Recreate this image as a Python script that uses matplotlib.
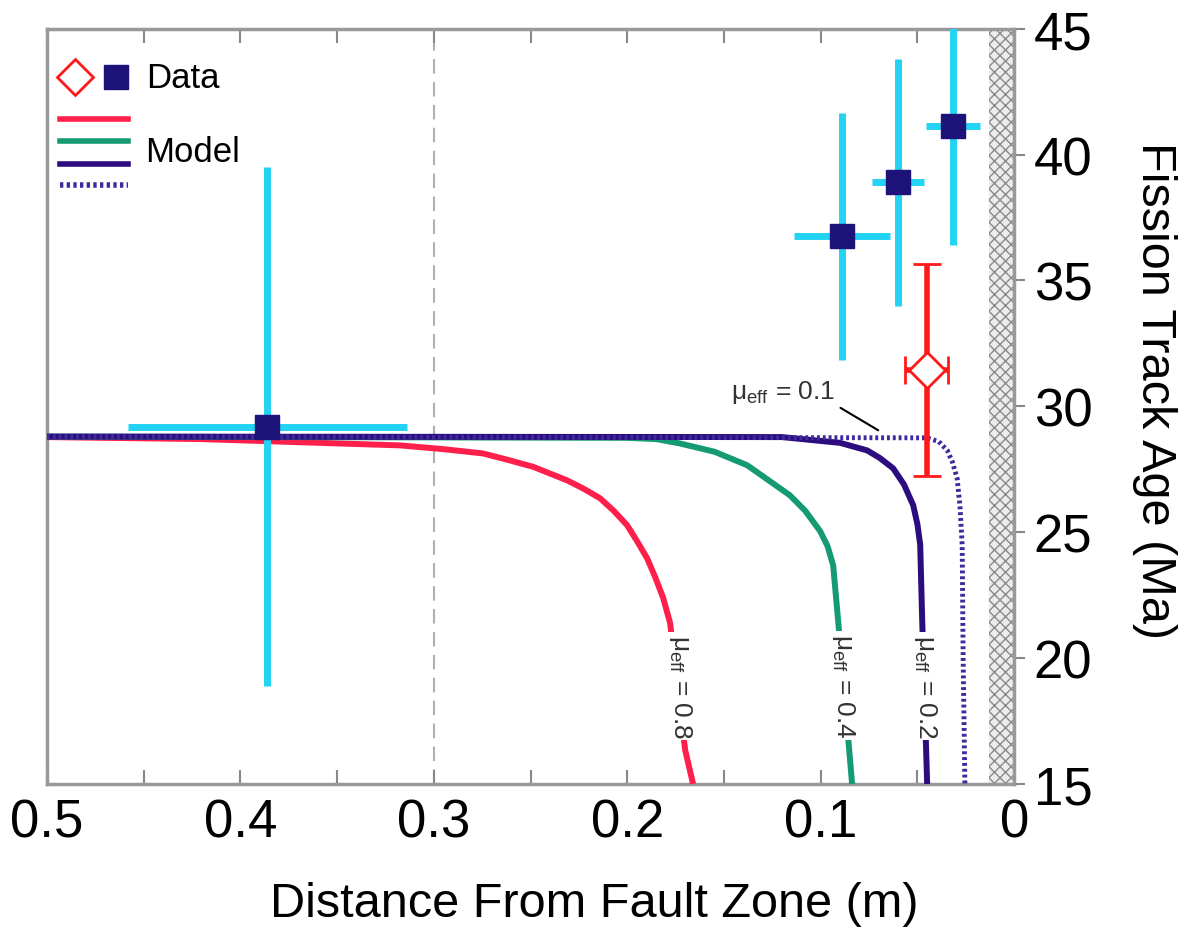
import numpy as np
import matplotlib
matplotlib.use('Agg')
import matplotlib.pyplot as plt
from matplotlib.lines import Line2D

plt.rcParams['font.family'] = ['Liberation Sans', 'DejaVu Sans']
plt.rcParams['mathtext.fontset'] = 'custom'
plt.rcParams['mathtext.rm'] = 'Liberation Sans'

'~~~~~~~~~~ DATA ~~~~~~~~~~'
# fission track samples (distance m, age Ma)
data_x = [0.386, 0.089, 0.060, 0.0315]
data_y = [29.2, 36.75, 38.9, 41.15]
data_xerr = [0.072, 0.025, 0.0135, 0.014]
data_yerr = [10.3, 4.9, 4.9, 4.75]

# second data point (open diamond)
dia_x = [0.0452]
dia_y = [31.45]
dia_xerr = [0.011]
dia_yerr = [4.2]

# model curves
red_x = [0.5, 0.42, 0.3175, 0.295, 0.2746, 0.262, 0.2487, 0.2311, 0.2226, 0.2141, 0.207, 0.2001,
         0.195, 0.1898, 0.1855, 0.1815, 0.1779, 0.1701, 0.166]
red_y = [28.78, 28.7, 28.45, 28.3, 28.13, 27.88, 27.6, 27.06, 26.73, 26.35, 25.85, 25.28,
         24.65, 23.97, 23.2, 22.4, 21.4, 16.35, 15.0]

green_x = [0.5, 0.2, 0.185, 0.173, 0.155, 0.138, 0.116, 0.108, 0.1003, 0.0965, 0.0936, 0.091, 0.0838]
green_y = [28.8, 28.75, 28.7, 28.53, 28.2, 27.66, 26.47, 25.85, 25.04, 24.45, 23.69, 21.47, 15.0]

purple_x = [0.5, 0.12, 0.09, 0.076, 0.0695, 0.0626, 0.057, 0.0522, 0.050, 0.0486, 0.0476, 0.045]
purple_y = [28.8, 28.78, 28.55, 28.25, 27.95, 27.54, 26.9, 26.07, 25.3, 24.5, 21.6, 15.0]

dot_x = [0.5, 0.045, 0.039, 0.0346, 0.032, 0.0295, 0.028, 0.0269, 0.0264, 0.0255]
dot_y = [28.8, 28.75, 28.6, 28.25, 27.8, 27.14, 26.0, 24.5, 20.0, 15.0]

mu_labels = ['0.8', '0.4', '0.2']
mu_label_x = [0.1727, 0.0884, 0.046]
mu_label_y = [18.9, 18.9, 18.9]

x_ticks = [0.5, 0.4, 0.3, 0.2, 0.1, 0.0]
x_ticklabels = ['0.5', '0.4', '0.3', '0.2', '0.1', '0']
y_ticks = [15, 20, 25, 30, 35, 40, 45]

c_red = '#ff1f4b'
c_green = '#159a74'
c_purple = '#2c0c7e'
c_dot = '#3d2a9c'
c_navy = '#1c1278'
c_cyan = '#22d3f3'

'------------------ PLOT ---------------------------------------------------------------------------------------------'
fig = plt.figure(figsize=(11.89, 9.29), dpi=100)
ax = fig.add_axes([0.0395, 0.155, 0.8135, 0.813])

# fault zone
ax.axvspan(0.0, 0.013, facecolor='#ececec', edgecolor='#8a8a8a', hatch='xxx', linewidth=0, zorder=1)
ax.axvline(0.3, color='#b0b0b0', linestyle=(0, (7, 4)), linewidth=1.5, zorder=1)

ax.plot(red_x, red_y, color=c_red, linewidth=4.3, zorder=3, solid_capstyle='butt')
ax.plot(green_x, green_y, color=c_green, linewidth=4.3, zorder=3, solid_capstyle='butt')
ax.plot(purple_x, purple_y, color=c_purple, linewidth=4.3, zorder=4, solid_capstyle='butt')
ax.plot(dot_x, dot_y, color=c_dot, linewidth=3.5, linestyle=(0, (0.6, 0.6)), zorder=5)

for lab, lx, ly in zip(mu_labels, mu_label_x, mu_label_y):
    ax.text(lx, ly, 'μ$_{\\rm eff}$ = ' + lab, rotation=-90, ha='center', va='center',
            fontsize=19, color='#333333', zorder=6,
            bbox=dict(facecolor='white', edgecolor='none', pad=1.5))

ax.annotate('μ$_{\\rm eff}$ = 0.1', xy=(0.0703, 29.05), xytext=(0.1194, 30.6),
            ha='center', va='center', fontsize=19, color='#333333', zorder=6,
            arrowprops=dict(arrowstyle='-', color='black', lw=1.5, relpos=(1.0, 0.0),
                            shrinkA=2, shrinkB=0))

ax.errorbar(data_x, data_y, xerr=data_xerr, yerr=data_yerr, fmt='s', color=c_navy,
            ecolor=c_cyan, elinewidth=5, markersize=17, capsize=0, zorder=7)
ax.errorbar(dia_x, dia_y, xerr=dia_xerr, yerr=dia_yerr, fmt='D', mfc='white', mec='#ff1a1a',
            mew=2, ecolor='#ff1a1a', elinewidth=4, markersize=18, capsize=10, capthick=4, zorder=8)

'------------------ LEGEND ---------------------------------------------------------------------------------------------'
ax.add_line(Line2D([0.029], [0.936], marker='D', ms=18, mfc='white', mec='#ff1a1a', mew=2,
                   transform=ax.transAxes))
ax.add_line(Line2D([0.071], [0.936], marker='s', ms=17, color=c_navy, transform=ax.transAxes))
ax.text(0.103, 0.936, 'Data', transform=ax.transAxes, fontsize=25, va='center', ha='left')
for yy, col, ls in [(0.881, c_red, '-'), (0.852, c_green, '-'), (0.821, c_purple, '-'),
                    (0.793, c_dot, (0, (0.6, 0.6)))]:
    ax.add_line(Line2D([0.013, 0.084], [yy, yy], color=col, linewidth=4, linestyle=ls,
                       transform=ax.transAxes))
ax.text(0.101, 0.838, 'Model', transform=ax.transAxes, fontsize=25, va='center', ha='left')

'------------------ AXES ---------------------------------------------------------------------------------------------'
ax.set_xlim(0.5, 0.0)
ax.set_ylim(15, 45)
ax.set_xticks(x_ticks)
ax.set_xticklabels(x_ticklabels)
ax.set_xticks(np.arange(0.05, 0.5, 0.1), minor=True)
ax.set_yticks(y_ticks)
ax.yaxis.tick_right()
ax.tick_params(axis='x', which='both', direction='in', top=True, bottom=True, length=10,
               width=1.5, color='#888888', labelsize=38, pad=10)
ax.tick_params(axis='y', which='both', direction='out', right=True, left=False, length=8,
               width=1.5, color='#888888', labelsize=38, pad=6)
for s in ax.spines.values():
    s.set_color('#999999')
    s.set_linewidth(2.5)

fig.text(594 / 1189, 1 - 905 / 929, 'Distance From Fault Zone (m)', fontsize=35,
         ha='center', va='center')
fig.text(1155 / 1189, 1 - 390 / 929, 'Fission Track Age (Ma)', fontsize=35,
         rotation=-90, ha='center', va='center')

plt.savefig('out.png', dpi=100)
